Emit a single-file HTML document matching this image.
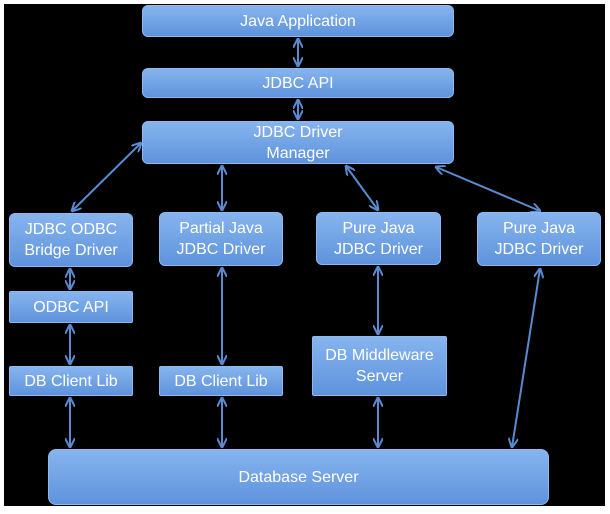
<!DOCTYPE html><html><head><style>
body{margin:0;background:#fff;}
#c{position:absolute;left:4px;top:4px;width:601px;height:502px;background:#000;}
.b{position:absolute;box-sizing:border-box;border:1px solid #8fb8ee;border-radius:6px;background:linear-gradient(#86b4ee,#5e93dc);color:#fff;font-family:"Liberation Sans",sans-serif;font-size:16px;display:flex;align-items:center;justify-content:center;text-align:center;line-height:21px;}
svg{position:absolute;left:0;top:0;}
</style></head><body>
<div id="c"></div>
<svg width="610" height="514">
<defs><marker id="a" viewBox="0 0 10 10" refX="9" refY="5" markerWidth="5" markerHeight="5" orient="auto-start-reverse"><path d="M0,0 L10,5 L0,10" fill="none" stroke="#5a8ad0" stroke-width="2"/></marker></defs>
<g stroke="#5a8ad0" stroke-width="2" marker-start="url(#a)" marker-end="url(#a)">
<line x1="298" y1="39" x2="298" y2="66"/>
<line x1="298" y1="100" x2="298" y2="119"/>
<line x1="141" y1="143" x2="72" y2="211"/>
<line x1="222" y1="166" x2="222" y2="210"/>
<line x1="346" y1="166" x2="378" y2="210"/>
<line x1="436" y1="167" x2="540" y2="211"/>
<line x1="70" y1="269" x2="70" y2="289"/>
<line x1="70" y1="325" x2="70" y2="364"/>
<line x1="70" y1="398" x2="70" y2="447"/>
<line x1="222" y1="268" x2="222" y2="364"/>
<line x1="222" y1="398" x2="222" y2="447"/>
<line x1="378" y1="267" x2="378" y2="334"/>
<line x1="378" y1="398" x2="378" y2="447"/>
<line x1="540" y1="269" x2="512" y2="447"/>
</g></svg>
<div class="b" style="left:142px;top:5px;width:312px;height:32px">Java Application</div>
<div class="b" style="left:142px;top:68px;width:312px;height:30px">JDBC API</div>
<div class="b" style="left:142px;top:121px;width:312px;height:43px">JDBC Driver<br>Manager</div>
<div class="b" style="left:9px;top:213px;width:124px;height:54px">JDBC ODBC<br>Bridge Driver</div>
<div class="b" style="left:159px;top:212px;width:124px;height:54px">Partial Java<br>JDBC Driver</div>
<div class="b" style="left:316px;top:212px;width:125px;height:53px">Pure Java<br>JDBC Driver</div>
<div class="b" style="left:477px;top:212px;width:124px;height:54px">Pure Java<br>JDBC Driver</div>
<div class="b" style="left:9px;top:291px;width:124px;height:32px;border-radius:2px">ODBC API</div>
<div class="b" style="left:9px;top:366px;width:124px;height:30px;border-radius:2px">DB Client Lib</div>
<div class="b" style="left:159px;top:366px;width:124px;height:30px;border-radius:2px">DB Client Lib</div>
<div class="b" style="left:312px;top:336px;width:135px;height:60px;border-radius:2px">DB Middleware<br>Server</div>
<div class="b" style="left:48px;top:449px;width:501px;height:56px;border-radius:8px">Database Server</div>
</body></html>
